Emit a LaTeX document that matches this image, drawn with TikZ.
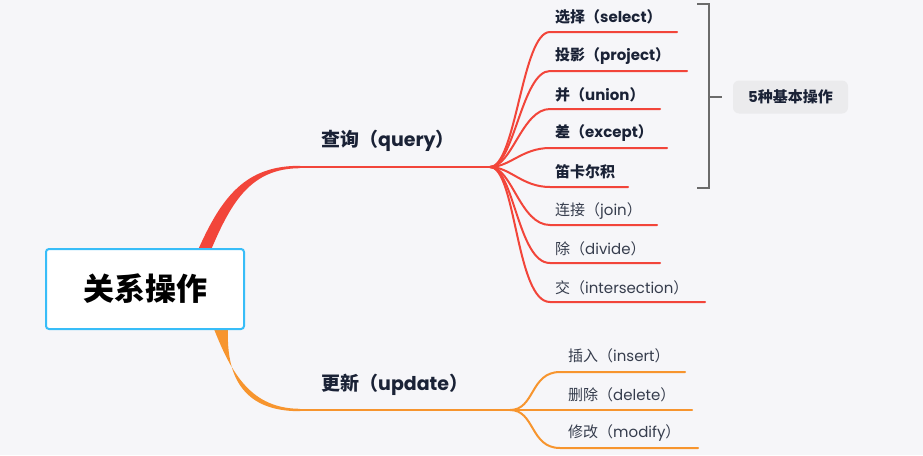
\documentclass[tikz,border=0pt]{standalone}
\usepackage{fontspec}
\setmainfont{Poppins}
\newfontfamily\cjk{Noto Sans CJK SC}
\newcommand\zh[1]{{\cjk #1}}
\definecolor{bg}{HTML}{F6F6F9}
\definecolor{redb}{HTML}{F2453A}
\definecolor{orab}{HTML}{F7952E}
\definecolor{cyanb}{HTML}{38BDF8}
\definecolor{navy}{HTML}{1A2236}
\definecolor{txt}{HTML}{363D4D}
\definecolor{brk}{HTML}{6B6B6B}
\definecolor{tagbg}{HTML}{EBEBED}
\tikzset{
  leafb/.style={anchor=west, inner sep=0pt, font=\fontsize{15}{17}\selectfont\bfseries, text=navy},
  leaf/.style={anchor=west, inner sep=0pt, font=\fontsize{15}{17}\selectfont, text=txt},
  branch/.style={anchor=west, inner sep=0pt, font=\fontsize{19}{21}\selectfont\bfseries, text=navy},
  redl/.style={draw=redb, line width=2pt, line cap=round},
  oral/.style={draw=orab, line width=2pt, line cap=round},
  brkl/.style={draw=brk, line width=2pt},
}
\begin{document}
\begin{tikzpicture}[x=1pt,y=-1pt]
\useasboundingbox (0,0) rectangle (923,455);
\fill[bg] (0,0) rectangle (923,455);

% tapered main branches
\fill[redb] (198,250) .. controls (222,196) and (246,165.6) .. (300,165.8) -- (300,168.2) .. controls (252,168.4) and (232,200) .. (211,250) -- cycle;
\fill[orab] (214,329) .. controls (232,375) and (252,408.6) .. (300,408.8) -- (300,411.2) .. controls (246,411.4) and (226,380) .. (228,329) -- cycle;

% root
\node[draw=cyanb, line width=2pt, fill=white, rounded corners=3pt, minimum width=198pt, minimum height=80pt, inner sep=0pt,
      font=\fontsize{31}{33}\selectfont\bfseries\cjk, text=black] (root) at (145,289) {关系操作};

% branch nodes
\coordinate (qs) at (300,167);
\coordinate (qf) at (490,167);
\coordinate (us) at (300,410);
\coordinate (uf) at (510,410);
\node[branch] (query) at (321,141) {\zh{查询（}query\zh{）}};
\node[branch] (update) at (321,385) {\zh{更新（}update\zh{）}};
\draw[redl] (qs) -- (qf);
\draw[oral] (us) -- (uf);

% query leaves
\node[leafb] (l1) at (555,17) {\zh{选择（}select\zh{）}};
\node[leafb] (l2) at (555,56) {\zh{投影（}project\zh{）}};
\node[leafb] (l3) at (555,95) {\zh{并（}union\zh{）}};
\node[leafb] (l4) at (555,133) {\zh{差（}except\zh{）}};
\node[leafb] (l5) at (555,172) {\zh{笛卡尔积}};
\node[leaf] (l6) at (555,211) {\zh{连接（}join\zh{）}};
\node[leaf] (l7) at (555,249) {\zh{除（}divide\zh{）}};
\node[leaf] (l8) at (555,288) {\zh{交（}intersection\zh{）}};

\coordinate (e1) at (677,32);
\coordinate (e2) at (687,71);
\coordinate (e3) at (660,109);
\coordinate (e4) at (667,148);
\coordinate (e5) at (628,187);
\coordinate (e6) at (657,225);
\coordinate (e7) at (660,263);
\coordinate (e8) at (705,302);

\draw[redl] (qf) .. controls (516,167) and (522,32) .. (550,32) -- (e1);
\draw[redl] (qf) .. controls (514,167) and (522,71) .. (550,71) -- (e2);
\draw[redl] (qf) .. controls (512,167) and (522,109) .. (550,109) -- (e3);
\draw[redl] (qf) .. controls (510,167) and (522,148) .. (550,148) -- (e4);
\draw[redl] (qf) .. controls (510,167) and (522,187) .. (550,187) -- (e5);
\draw[redl] (qf) .. controls (512,167) and (520,225) .. (550,225) -- (e6);
\draw[redl] (qf) .. controls (514,167) and (518,263) .. (550,263) -- (e7);
\draw[redl] (qf) .. controls (516,167) and (516,302) .. (550,302) -- (e8);

% update leaves
\node[leaf] (u1) at (568,356) {\zh{插入（}insert\zh{）}};
\node[leaf] (u2) at (568,395) {\zh{删除（}delete\zh{）}};
\node[leaf] (u3) at (568,433) {\zh{修改（}modify\zh{）}};
\coordinate (f1) at (685,372);
\coordinate (f2) at (692,410);
\coordinate (f3) at (698,448);
\draw[oral] (uf) .. controls (535,410) and (530,372) .. (560,372) -- (f1);
\draw[oral] (uf) -- (f2);
\draw[oral] (uf) .. controls (535,410) and (530,448) .. (560,448) -- (f3);

% bracket and summary
\coordinate (bt) at (697,4);
\coordinate (bb) at (697,188);
\coordinate (bm) at (722,97);
\draw[brkl] (bt) -- (709,4) -- (709,188) -- (bb);
\draw[brkl] (709,97) -- (bm);
\node[fill=tagbg, rounded corners=6pt, minimum width=115pt, minimum height=33pt, inner sep=0pt,
      font=\fontsize{15}{17}\selectfont\bfseries, text=navy] (sum) at (790.5,97) {5\zh{种基本操作}};
\end{tikzpicture}
\end{document}
